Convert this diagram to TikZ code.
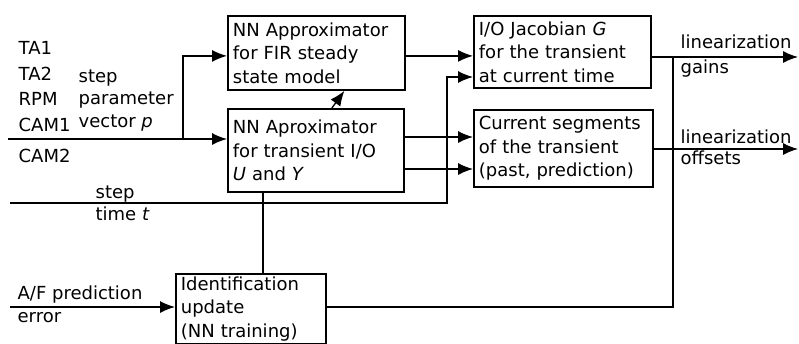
\documentclass[tikz,border=0pt]{standalone}
\usepackage{fontspec}
\setmainfont{DejaVu Sans}
\usetikzlibrary{arrows.meta}

\begin{document}
\begin{tikzpicture}[x=1pt,y=-1pt,>={Latex[length=15pt,width=12pt]},
  font=\fontsize{18}{23.5}\selectfont,line width=1.3pt,
  blk/.style={draw,line width=1.8pt,anchor=north west,align=left,
              inner xsep=5pt,inner ysep=2pt},
  lbl/.style={anchor=north west,align=left,inner sep=0pt}]
 \useasboundingbox (0,0) rectangle (799,343);
 \node[blk,text width=167pt,minimum height=74pt] (fir) at (227,15)
      {NN Approximator\\for FIR steady\\state model};
 \node[blk,text width=166pt,minimum height=83pt] (tra) at (227,108)
      {NN Aproximator\\for transient I/O\\\textit{U} and \textit{Y}};
 \node[blk,text width=167pt,minimum height=72pt] (jac) at (473,15)
      {I/O Jacobian \textit{G}\\for the transient\\at current time};
 \node[blk,text width=169pt,minimum height=77pt] (seg) at (473,109)
      {Current segments\\of the transient\\(past, prediction)};
 \node[blk,text width=140pt,minimum height=70pt] (idn) at (175,273)
      {Identification\\update\\(NN training)};
 \coordinate (pin) at (8,139);
 \coordinate (pbr) at (183,139);
 \coordinate (tin) at (10,203);
 \coordinate (tbr) at (447,203);
 \coordinate (ain) at (10,307);
 \coordinate (vlk) at (263,0);
 \coordinate (jnc) at (673,57);
 \coordinate (gout) at (798,57);
 \coordinate (oout) at (798,149);
 \draw[->] (pin) -- (pin -| tra.west);
 \draw[->] (pbr) |- ([yshift=-3pt]fir.west);
 \draw[->] ([yshift=-3pt]fir.east) -- ([yshift=-3pt]fir.east -| jac.west);
 \draw[->] ([xshift=16pt]tra.north) -- ([xshift=28pt]fir.south);
 \draw[->] ([yshift=-29pt]tra.north east) coordinate (t1) -- (t1 -| seg.west);
 \draw[->] ([yshift=-61pt]tra.north east) coordinate (t2) -- (t2 -| seg.west);
 \draw[->] (tin) -- (tbr) |- ([yshift=-62pt]jac.north west);
 \draw (tra.south -| vlk) -- (idn.north -| vlk);
 \draw[->] (ain) -- (ain -| idn.west);
 \draw (ain -| idn.east) -| (jnc);
 \draw[->] (gout -| jac.east) -- (gout);
 \draw[->] (oout -| seg.east) -- (oout);
 \node[lbl,font=\fontsize{18}{25.5}\selectfont] (sig) at (18,41) {TA1\\TA2\\RPM\\CAM1};
 \node[lbl] (cam) at (18,148) {CAM2};
 \node[lbl,font=\fontsize{18}{22.5}\selectfont] (stp) at (78,69)
      {step\\parameter\\vector \textit{p}};
 \node[lbl,font=\fontsize{18}{22}\selectfont] (tsl) at (95,185) {step\\time \textit{t}};
 \node[lbl,font=\fontsize{18}{23}\selectfont] (afl) at (17,285) {A/F prediction\\error};
 \node[lbl,font=\fontsize{18}{25}\selectfont] (gnl) at (680,34) {linearization\\gains};
 \node[lbl,font=\fontsize{18}{21}\selectfont] (ofl) at (680,129) {linearization\\offsets};
\end{tikzpicture}
\end{document}
